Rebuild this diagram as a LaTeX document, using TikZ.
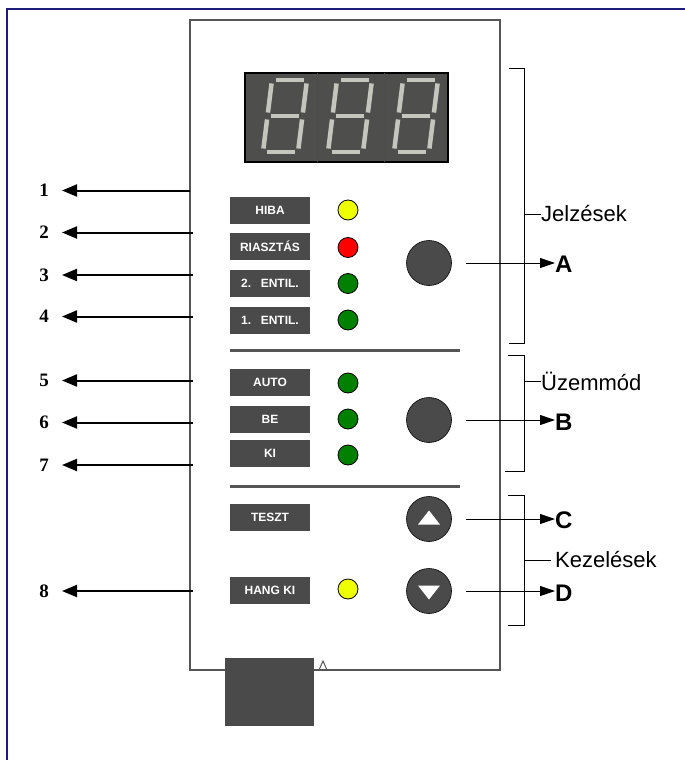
\documentclass[tikz,border=0pt]{standalone}
\usepackage{fontspec}
\setmainfont{Liberation Serif}
\setsansfont{Liberation Sans}
\usetikzlibrary{arrows.meta,calc}
\definecolor{boxgray}{HTML}{4A4A4A}
\definecolor{panelgray}{HTML}{555555}
\definecolor{framenavy}{HTML}{1C1C7A}
\definecolor{segcol}{HTML}{C4C6BE}
\definecolor{dispbg}{HTML}{4E4F4C}
\definecolor{ledyellow}{HTML}{EEFF00}
\definecolor{ledred}{HTML}{FF0000}
\definecolor{ledgreen}{HTML}{008000}
\tikzset{
  lbox/.style={fill=boxgray, text=white, font=\sffamily\bfseries\fontsize{12}{12}\selectfont,
    minimum width=80pt, minimum height=27pt, inner sep=0pt},
  led/.style={circle, draw=black, line width=0.8pt, minimum size=20pt, inner sep=0pt},
  bigbtn/.style={circle, draw=black, line width=0.6pt, fill=boxgray, minimum size=45pt, inner sep=0pt},
  numlbl/.style={font=\bfseries\fontsize{19}{19}\selectfont, inner sep=0pt},
  letlbl/.style={font=\sffamily\bfseries\fontsize{24}{24}\selectfont, inner sep=0pt, anchor=west},
  grplbl/.style={font=\sffamily\fontsize{22}{22}\selectfont, inner sep=0pt, anchor=west},
  larr/.style={line width=2pt, -{Triangle[length=15pt,width=12pt]}},
  rarr/.style={line width=1pt, -{Triangle[length=15pt,width=10pt]}},
  brk/.style={line width=1pt},
  seg/.style={line width=4.5pt, segcol, shorten <=3.5pt, shorten >=3.5pt},
  sepline/.style={line width=3pt, panelgray},
}
\begin{document}
\begin{tikzpicture}[x=1pt,y=-1pt]
\useasboundingbox (0,0) rectangle (685,760);
% outer frame
\draw[framenavy, line width=1.5pt] (7,760) -- (7,9) -- (685,9);

% panel
\draw[panelgray, line width=2pt] (225,670) -- (190,670) -- (190,20) -- (500,20) -- (500,670) -- (314,670);
\draw[panelgray, line width=1pt] (319,670) -- (323,661) -- (327,670);
% connector block at bottom
\fill[boxgray] (225,658) rectangle (314,726);

% display
\node[draw=black, line width=2pt, fill=dispbg, minimum width=203pt, minimum height=89pt, inner sep=0pt] (disp) at (346.5,117.5) {};
\draw[black!70, line width=0.8pt] (317,73) -- (317,162) (384,73) -- (384,162);
\foreach \dx in {0,65,131}{
  \begin{scope}[xshift=\dx pt]
    \coordinate (TL) at (272,80); \coordinate (TR) at (307,80);
    \coordinate (ML) at (267.5,116); \coordinate (MR) at (302.5,116);
    \coordinate (BL) at (263,152); \coordinate (BR) at (298,152);
    \draw[seg] (TL) -- (TR);
    \draw[seg] (TL) -- (ML);
    \draw[seg] (TR) -- (MR);
    \draw[seg] (ML) -- (MR);
    \draw[seg] (ML) -- (BL);
    \draw[seg] (MR) -- (BR);
    \draw[seg] (BL) -- (BR);
  \end{scope}
}

% label boxes
\node[lbox] (hiba) at (270,210) {HIBA};
\node[lbox] (riasz) at (270,246.5) {RIASZTÁS};
\node[lbox] (ent2) at (270,283.5) {2.\hspace{0.8em}ENTIL.};
\node[lbox] (ent1) at (270,320) {1.\hspace{0.8em}ENTIL.};
\node[lbox] (auto) at (270,382.5) {AUTO};
\node[lbox] (be) at (270,419.5) {BE};
\node[lbox] (ki) at (270,453.5) {KI};
\node[lbox] (teszt) at (270,517) {TESZT};
\node[lbox] (hang) at (270,590) {HANG KI};

% LEDs
\node[led, fill=ledyellow] (l1) at (348,210) {};
\node[led, fill=ledred] (l2) at (348,247.5) {};
\node[led, fill=ledgreen] (l3) at (348,283.5) {};
\node[led, fill=ledgreen] (l4) at (348,320) {};
\node[led, fill=ledgreen] (l5) at (348,383) {};
\node[led, fill=ledgreen] (l6) at (348,419) {};
\node[led, fill=ledgreen] (l7) at (348,455) {};
\node[led, fill=ledyellow] (l8) at (348,589) {};

% separators
\draw[sepline] (230,350) -- (460,350);
\draw[sepline] (230,486) -- (460,486);

% big buttons
\node[bigbtn] (ba) at (429,263) {};
\node[bigbtn] (bb) at (429,420) {};
\node[bigbtn] (bc) at (429,519) {};
\node[bigbtn] (bd) at (429,591) {};
\fill[white] ($(bc)+(-11,5.5)$) -- ($(bc)+(11,5.5)$) -- ($(bc)+(0,-8.5)$) -- cycle;
\fill[white] ($(bd)+(-11,-5.5)$) -- ($(bd)+(11,-5.5)$) -- ($(bd)+(0,8.5)$) -- cycle;

% left numbered arrows
\foreach \n/\y/\sx in {1/190.5/190,2/232.5/193,3/275/193,4/316.5/193,5/380.5/193,6/422.5/193,7/465/193,8/591/193}{
  \coordinate (s\n) at (\sx,\y);
  \coordinate (t\n) at (62,\y);
  \node[numlbl] (n\n) at (44,\y) {\n};
  \draw[larr] (s\n) -- (t\n);
}

% right lettered arrows
\coordinate (ea) at (466,263); \coordinate (eb) at (466,420);
\coordinate (ec) at (466,519); \coordinate (ed) at (466,591);
\node[letlbl] (la) at (555,264) {A};
\node[letlbl] (lb) at (555,422) {B};
\node[letlbl] (lc) at (555,520) {C};
\node[letlbl] (ld) at (555,593) {D};
\draw[rarr] (ea) -- (ea -| la.west);
\draw[rarr] (eb) -- (eb -| lb.west);
\draw[rarr] (ec) -- (ec -| lc.west);
\draw[rarr] (ed) -- (ed -| ld.west);

% brackets
\draw[brk] (509,69) -- (524,69) -- (524,343) -- (509,343);
\coordinate (jt) at (524,214);
\node[grplbl] (jel) at (541,214) {Jelzések};
\draw[brk] (jt) -- (jel.west);

\draw[brk] (508,355) -- (524,355) -- (524,471) -- (505,471);
\coordinate (ut) at (524,381);
\node[grplbl] (uzem) at (541,381) {Üzemmód};
\draw[brk] (ut) -- (uzem.west);

\draw[brk] (508,495) -- (524,495) -- (524,625) -- (508,625);
\coordinate (kt) at (524,560);
\coordinate (kt2) at (551,560);
\node[grplbl] (kez) at (555,560) {Kezelések};
\draw[brk] (kt) -- (kt2);
\end{tikzpicture}
\end{document}
